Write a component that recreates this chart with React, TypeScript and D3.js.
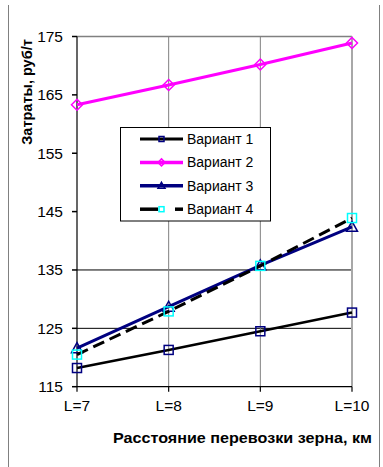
import React from 'react';
import * as d3 from 'd3';

const categories = ['L=7', 'L=8', 'L=9', 'L=10'];
const variant1 = [118.2, 121.3, 124.5, 127.7];
const variant2 = [163.3, 166.7, 170.2, 173.9];
const variant3 = [121.6, 128.7, 135.8, 142.4];
const variant4 = [120.5, 127.9, 135.7, 143.9];
const seriesNames = ['Вариант 1', 'Вариант 2', 'Вариант 3', 'Вариант 4'];
const yTicks = [115, 125, 135, 145, 155, 165, 175];
const gridValues = [125, 135];

const W = 383;
const H = 467;
const plot = { left: 77, right: 352, top: 36.5, bottom: 386.7 };
const font = '"Liberation Sans", Arial, sans-serif';

type Marker = 'square' | 'diamond' | 'triangle';

const series = [
  { name: seriesNames[0], values: variant1, line: '#000000', width: 2.5, dash: '', marker: 'square' as Marker, markerColor: '#000080' },
  { name: seriesNames[1], values: variant2, line: '#ff00ff', width: 3, dash: '', marker: 'diamond' as Marker, markerColor: '#ff00ff' },
  { name: seriesNames[2], values: variant3, line: '#000080', width: 3, dash: '', marker: 'triangle' as Marker, markerColor: '#000080' },
  { name: seriesNames[3], values: variant4, line: '#000000', width: 3, dash: '12,6', marker: 'square' as Marker, markerColor: '#00ffff' },
];

function MarkerShape({ kind, x, y, color, size }: { kind: Marker; x: number; y: number; color: string; size: number }) {
  const h = size / 2;
  if (kind === 'square') {
    return <rect x={x - h} y={y - h} width={size} height={size} fill="none" stroke={color} strokeWidth={1.5} />;
  }
  if (kind === 'diamond') {
    return (
      <path
        d={`M${x},${y - h - 1}L${x + h + 1},${y}L${x},${y + h + 1}L${x - h - 1},${y}Z`}
        fill="none"
        stroke={color}
        strokeWidth={1.5}
      />
    );
  }
  return (
    <path
      d={`M${x},${y - h - 1}L${x + h + 1},${y + h}L${x - h - 1},${y + h}Z`}
      fill="none"
      stroke={color}
      strokeWidth={1.5}
    />
  );
}

export default function App() {
  const x = d3.scalePoint<string>().domain(categories).range([plot.left, plot.right]);
  const y = d3.scaleLinear().domain([115, 175]).range([plot.bottom, plot.top]);

  const line = d3
    .line<number>()
    .x((d, i) => x(categories[i]) as number)
    .y(d => y(d));

  const legend = { x: 120.5, y: 127.5, w: 150, h: 93.5 };
  const rowY = (i: number) => 139 + i * 23.4;

  return (
    <svg width={W} height={H} style={{ position: 'absolute', left: 0, top: 0, background: '#fff' }}>
      {/* outer frame sides */}
      <line x1={8.5} x2={8.5} y1={5} y2={H} stroke="#808080" strokeWidth={1} />
      <line x1={379.5} x2={379.5} y1={5} y2={H} stroke="#808080" strokeWidth={1} />

      {/* top border of the plot */}
      <line x1={plot.left} x2={plot.right} y1={y(175)} y2={y(175)} stroke="#808080" strokeWidth={1.5} />

      {/* horizontal grid */}
      {gridValues.map(v => (
        <line key={v} x1={plot.left} x2={plot.right} y1={y(v)} y2={y(v)} stroke="#000" strokeWidth={1} />
      ))}

      {/* vertical grid */}
      {categories.slice(1, 3).map(c => (
        <line key={c} x1={x(c)} x2={x(c)} y1={plot.top} y2={plot.bottom} stroke="#808080" strokeWidth={1} />
      ))}
      <line x1={plot.right} x2={plot.right} y1={plot.top} y2={plot.bottom} stroke="#a8a8a8" strokeWidth={2} />

      {/* axes */}
      <line x1={plot.left} x2={plot.left} y1={plot.top} y2={plot.bottom} stroke="#000" strokeWidth={1.2} />
      <line x1={plot.left} x2={plot.right} y1={plot.bottom} y2={plot.bottom} stroke="#000" strokeWidth={1.2} />
      {yTicks.map(t => (
        <g key={t}>
          <line x1={plot.left - 5} x2={plot.left} y1={y(t)} y2={y(t)} stroke="#000" strokeWidth={1.5} />
          <text x={63} y={y(t) + 5.5} textAnchor="end" fontFamily={font} fontSize={15.5} fill="#000">
            {t}
          </text>
        </g>
      ))}
      {categories.map(c => (
        <g key={c}>
          <line x1={x(c)} x2={x(c)} y1={plot.bottom} y2={plot.bottom + 5} stroke="#000" strokeWidth={1.2} />
          <text x={x(c)} y={411} textAnchor="middle" fontFamily={font} fontSize={15.5} fill="#000">
            {c}
          </text>
        </g>
      ))}

      {/* series */}
      {series.map(s => (
        <g key={s.name}>
          <path
            d={line(s.values) || ''}
            fill="none"
            stroke={s.line}
            strokeWidth={s.width}
            strokeDasharray={s.dash || undefined}
          />
          {s.values.map((v, i) => (
            <MarkerShape key={i} kind={s.marker} x={x(categories[i]) as number} y={y(v)} color={s.markerColor} size={9} />
          ))}
        </g>
      ))}

      {/* legend */}
      <rect x={legend.x} y={legend.y} width={legend.w} height={legend.h} fill="#fff" stroke="#000" strokeWidth={1} />
      {series.map((s, i) => (
        <g key={s.name}>
          {s.dash ? (
            <>
              <line x1={140} x2={158} y1={rowY(i)} y2={rowY(i)} stroke={s.line} strokeWidth={s.width + 0.5} />
              <line x1={175} x2={183} y1={rowY(i)} y2={rowY(i)} stroke={s.line} strokeWidth={s.width + 0.5} />
            </>
          ) : (
            <line x1={140} x2={183} y1={rowY(i)} y2={rowY(i)} stroke={s.line} strokeWidth={s.width + 0.5} />
          )}
          <MarkerShape kind={s.marker} x={161.5} y={rowY(i)} color={s.markerColor} size={5} />
          <text x={187} y={rowY(i) + 5} fontFamily={font} fontSize={14} fill="#000">
            {s.name}
          </text>
        </g>
      ))}

      {/* axis titles */}
      <text
        transform={`translate(32,92) rotate(-90)`}
        textAnchor="middle"
        fontFamily={font}
        fontWeight="bold"
        fontSize={14.5}
        fill="#000"
      >
        Затраты, руб/т
      </text>
      <text
        x={242.5}
        y={443}
        textAnchor="middle"
        fontFamily={font}
        fontWeight="bold"
        fontSize={14}
        fill="#000"
        textLength={259}
        lengthAdjust="spacingAndGlyphs"
      >
        Расстояние перевозки зерна, км
      </text>
    </svg>
  );
}
